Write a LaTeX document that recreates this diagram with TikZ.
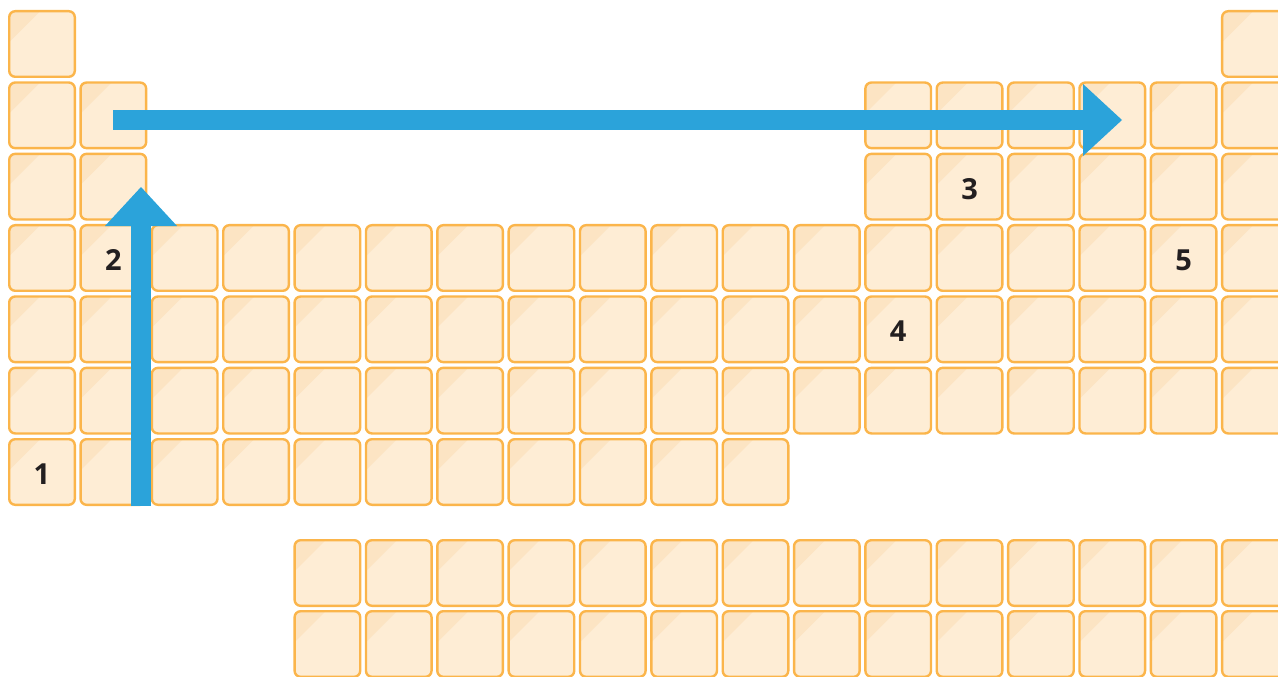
\documentclass[tikz,border=0pt]{standalone}
\usepackage{fontspec}
\newfontfamily\labelfont{Open Sans}
\usetikzlibrary{arrows.meta}
\definecolor{tilefill}{HTML}{FEEDD5}
\definecolor{tileshade}{HTML}{FCE4C3}
\definecolor{tileline}{HTML}{FBB54B}
\definecolor{arrowblue}{HTML}{2BA3DA}
\definecolor{labelgray}{HTML}{231F20}

\begin{document}
\begin{tikzpicture}[x=1pt,y=-1pt,
  tile/.style={draw=tileline,fill=tilefill,line width=2.4pt,rounded corners=6pt,
    minimum width=65.6pt,minimum height=65.6pt,inner sep=0pt,
    path picture={\fill[tileshade,sharp corners] (path picture bounding box.north west)
      -- ([xshift=31pt]path picture bounding box.north west)
      -- ([yshift=-31pt]path picture bounding box.north west) -- cycle;}},
  num/.style={font=\labelfont\bfseries\fontsize{29}{29}\selectfont,text=labelgray,
    yshift=-2pt},
  bigarrow/.style={arrowblue,line width=20pt,
    -{Triangle[length=39pt,width=72pt,line width=0pt]}}]
  \useasboundingbox (0,0) rectangle (1278,677);
  \clip (0,0) rectangle (1278,677);

  % main block
  \foreach \c in {1,18}
    \node[tile] (t-1-\c) at ({42+(\c-1)*71.35},44) {};
  \foreach \r in {2,3}
    \foreach \c in {1,2,13,14,15,16,17,18}
      \node[tile] (t-\r-\c) at ({42+(\c-1)*71.35},{44+(\r-1)*71.33}) {};
  \foreach \r in {4,5,6}
    \foreach \c in {1,...,18}
      \node[tile] (t-\r-\c) at ({42+(\c-1)*71.35},{44+(\r-1)*71.33}) {};
  \foreach \c in {1,...,11}
    \node[tile] (t-7-\c) at ({42+(\c-1)*71.35},472) {};

  % lower two rows
  \foreach \r/\y in {8/573,9/644}
    \foreach \c in {5,...,18}
      \node[tile] (t-\r-\c) at ({42+(\c-1)*71.35},\y) {};

  % numbers
  \node[num] (n1) at (t-7-1) {1};
  \node[num] (n2) at (t-4-2) {2};
  \node[num] (n3) at (t-3-14) {3};
  \node[num] (n4) at (t-5-13) {4};
  \node[num] (n5) at (t-4-17) {5};

  % arrows
  \coordinate (up-start) at (141,506);
  \coordinate (up-end) at (141,187);
  \coordinate (right-start) at (113,120);
  \coordinate (right-end) at (1122,120);
  \draw[bigarrow] (up-start) -- (up-end);
  \draw[bigarrow] (right-start) -- (right-end);
\end{tikzpicture}
\end{document}
